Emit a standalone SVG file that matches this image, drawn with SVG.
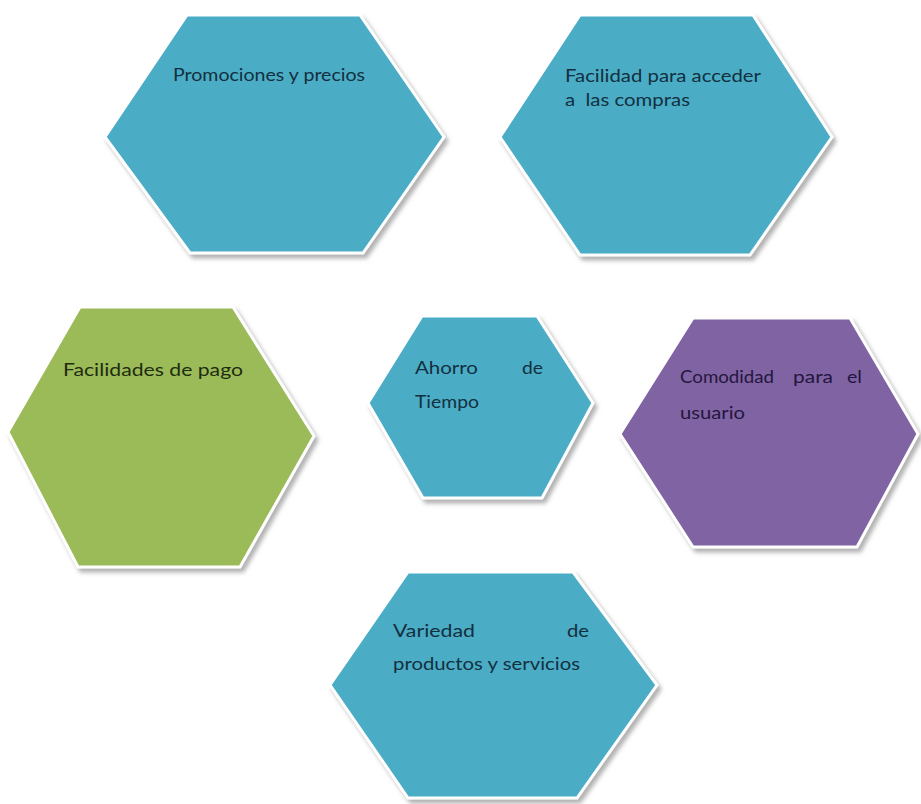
<svg xmlns="http://www.w3.org/2000/svg" width="921" height="804" viewBox="0 0 921 804">
<defs>
<filter id="sh" x="-10%" y="-10%" width="120%" height="120%">
<feGaussianBlur in="SourceAlpha" stdDeviation="2"/>
<feOffset dx="3" dy="4" result="b"/>
<feFlood flood-color="#7f7f7f" flood-opacity="0.6"/>
<feComposite in2="b" operator="in" result="s"/>
<feMerge><feMergeNode in="s"/><feMergeNode in="SourceGraphic"/></feMerge>
</filter>
<style>
.hex{stroke:#ffffff;stroke-width:3;stroke-linejoin:miter;filter:url(#sh)}
.aqua{fill:#4BACC6}
.green{fill:#9BBB59}
.purple{fill:#8064A2}
text{font-family:Lato,"Open Sans","Liberation Sans",sans-serif;font-size:17px;white-space:pre}
.ta{fill:#12303f}
.tg{fill:#1f2c10}
.tp{fill:#241640}
</style>
</defs>
<rect width="921" height="804" fill="#ffffff"/>
<g id="connectors"></g>
<g id="promociones">
<polygon class="hex aqua" points="187,15 360,15 444,137 363,253 190,253 105,137"/>
<text class="ta" x="173" y="81" textLength="192" lengthAdjust="spacingAndGlyphs">Promociones y precios</text>
</g>
<g id="facilidad-acceder">
<polygon class="hex aqua" points="580,15 753,15 832,137 750,255 580,255 500,137"/>
<text class="ta" x="565" y="82" textLength="196" lengthAdjust="spacingAndGlyphs">Facilidad para acceder</text>
<text class="ta" x="565" y="106" textLength="125" lengthAdjust="spacingAndGlyphs" xml:space="preserve">a  las compras</text>
</g>
<g id="facilidades-pago">
<polygon class="hex green" points="80,307 233,307 314,436 240,567 78,567 8,432"/>
<text class="tg" x="63" y="376" textLength="180" lengthAdjust="spacingAndGlyphs">Facilidades de pago</text>
</g>
<g id="ahorro">
<polygon class="hex aqua" points="422,316 537,316 593,403 542,498 423,498 368,403"/>
<text class="ta" x="415" y="374" textLength="63" lengthAdjust="spacingAndGlyphs">Ahorro</text>
<text class="ta" x="522" y="374" textLength="21" lengthAdjust="spacingAndGlyphs">de</text>
<text class="ta" x="415" y="408" textLength="64" lengthAdjust="spacingAndGlyphs">Tiempo</text>
</g>
<g id="comodidad">
<polygon class="hex purple" points="693,318 850,318 918,434 857,547 693,547 620,434"/>
<text class="tp" x="680" y="383" textLength="94" lengthAdjust="spacingAndGlyphs">Comodidad</text>
<text class="tp" x="793" y="383" textLength="40" lengthAdjust="spacingAndGlyphs">para</text>
<text class="tp" x="847" y="383" textLength="15" lengthAdjust="spacingAndGlyphs">el</text>
<text class="tp" x="680" y="419" textLength="65" lengthAdjust="spacingAndGlyphs">usuario</text>
</g>
<g id="variedad">
<polygon class="hex aqua" points="408,572 573,572 657,685 577,798 408,798 330,685"/>
<text class="ta" x="393" y="637" textLength="82" lengthAdjust="spacingAndGlyphs">Variedad</text>
<text class="ta" x="567" y="637" textLength="22" lengthAdjust="spacingAndGlyphs">de</text>
<text class="ta" x="393" y="670" textLength="187" lengthAdjust="spacingAndGlyphs">productos y servicios</text>
</g>
</svg>
